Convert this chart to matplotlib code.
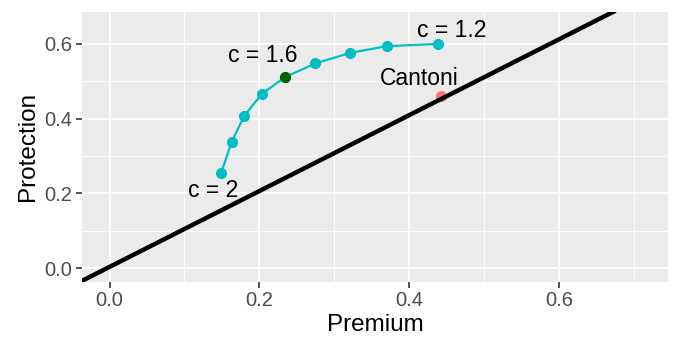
import matplotlib.pyplot as plt
from matplotlib.ticker import MultipleLocator

plt.rcParams['font.family'] = ['Liberation Sans', 'DejaVu Sans']

# frontier points (c from 2 down to 1.2)
premium = [0.149, 0.163, 0.180, 0.203, 0.234, 0.275, 0.321, 0.370, 0.438]
protection = [0.254, 0.338, 0.4075, 0.465, 0.510, 0.547, 0.575, 0.593, 0.599]
highlight_idx = 4  # c = 1.6

cantoni_x, cantoni_y = 0.443, 0.460

# reference line
line_intercept, line_slope = 0.004, 1.012

labels = ["c = 2", "c = 1.6", "c = 1.2", "Cantoni"]
label_x = [0.138, 0.204, 0.457, 0.413]
label_y = [0.209, 0.569, 0.636, 0.507]

fig = plt.figure(figsize=(6.81, 3.55), dpi=100)
ax = fig.add_axes([0.1204, 0.207, 0.8606, 0.76])
ax.set_facecolor('#EBEBEB')

ax.set_xlim(-0.0368, 0.7458)
ax.set_ylim(-0.035, 0.685)

ax.xaxis.set_major_locator(MultipleLocator(0.2))
ax.xaxis.set_minor_locator(MultipleLocator(0.1))
ax.yaxis.set_major_locator(MultipleLocator(0.2))
ax.yaxis.set_minor_locator(MultipleLocator(0.1))
ax.grid(which='major', color='white', lw=1.3, zorder=0)
ax.grid(which='minor', color='white', lw=0.6, zorder=0)
ax.set_axisbelow(True)
for s in ax.spines.values():
    s.set_visible(False)

ax.tick_params(which='major', length=4, width=1.2, color='#333333',
               labelsize=14.5, labelcolor='#4D4D4D', pad=3)
ax.tick_params(which='minor', length=0)
ax.xaxis.set_major_formatter(plt.FuncFormatter(lambda v, p: f"{v:.1f}"))
ax.yaxis.set_major_formatter(plt.FuncFormatter(lambda v, p: f"{v:.1f}"))

ax.plot(premium, protection, color='#00BFC4', lw=1.6, marker='o',
        ms=7, zorder=3)
ax.plot(premium[highlight_idx], protection[highlight_idx], 'o',
        color='#006400', ms=7, zorder=4)
ax.plot(cantoni_x, cantoni_y, 'o', color='#F8766D', ms=7, zorder=3)
ax.axline((0, line_intercept), slope=line_slope, color='black', lw=3.2,
          zorder=5)

for t, x, y in zip(labels, label_x, label_y):
    ax.text(x, y, t, ha='center', va='center', fontsize=16.5, color='black',
            zorder=6)

ax.set_xlabel("Premium", fontsize=17.5, labelpad=3)
ax.set_ylabel("Protection", fontsize=17.5, labelpad=4)

fig.savefig("out.png", dpi=100)
